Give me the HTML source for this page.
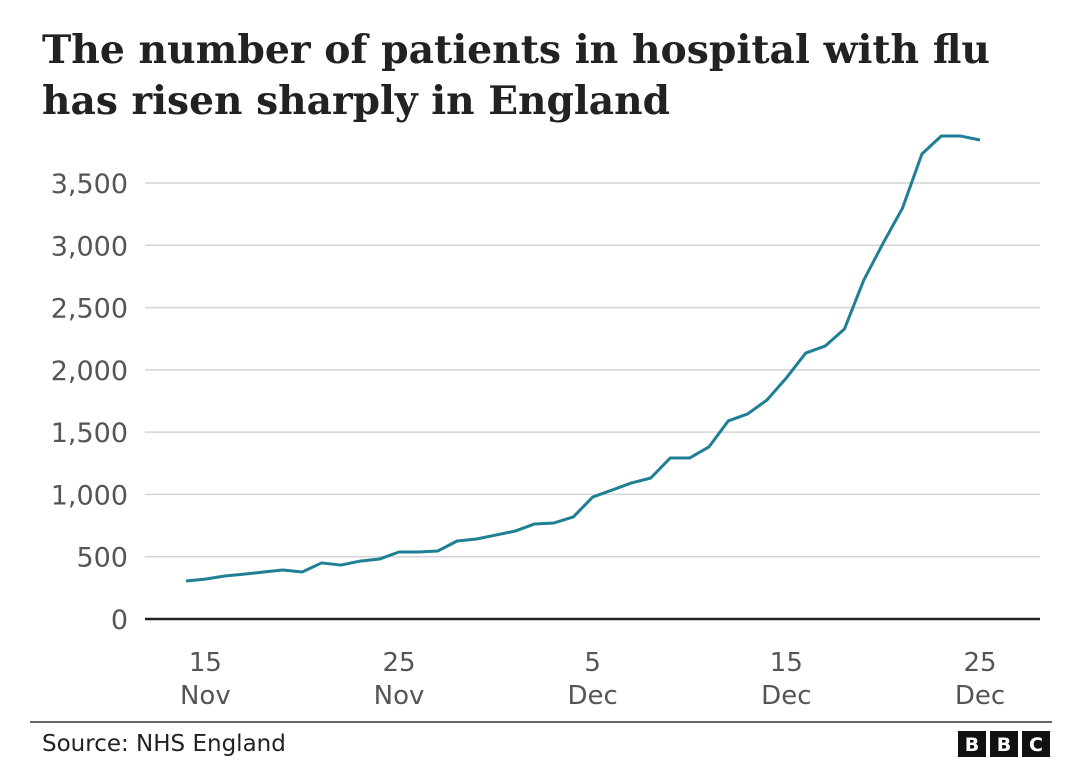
<!DOCTYPE html>
<html><head><meta charset="utf-8"><style>
body{margin:0;background:#fff;width:1080px;height:773px;overflow:hidden;font-family:"DejaVu Sans",sans-serif}
</style></head><body>
<svg id="c" width="1080" height="773" style="position:absolute;left:0;top:0">
<text x="42" y="63" textLength="948" lengthAdjust="spacingAndGlyphs" font-family="DejaVu Serif, serif" font-weight="bold" font-size="39" fill="#222">The number of patients in hospital with flu</text>
<text x="42" y="114" textLength="628" lengthAdjust="spacingAndGlyphs" font-family="DejaVu Serif, serif" font-weight="bold" font-size="39" fill="#222">has risen sharply in England</text>
</svg>
<script>
const dayLabels=["14 Nov","15 Nov","16 Nov","17 Nov","18 Nov","19 Nov","20 Nov","21 Nov","22 Nov","23 Nov","24 Nov","25 Nov","26 Nov","27 Nov","28 Nov","29 Nov","30 Nov","1 Dec","2 Dec","3 Dec","4 Dec","5 Dec","6 Dec","7 Dec","8 Dec","9 Dec","10 Dec","11 Dec","12 Dec","13 Dec","14 Dec","15 Dec","16 Dec","17 Dec","18 Dec","19 Dec","20 Dec","21 Dec","22 Dec","23 Dec","24 Dec","25 Dec"];
const patients=[305,320,345,360,377,393,377,450,433,465,482,538,538,546,626,642,674,706,763,771,819,979,1035,1092,1132,1292,1292,1381,1590,1646,1758,1935,2135,2191,2328,2721,3018,3299,3733,3877,3877,3845];
const yTicks=[0,500,1000,1500,2000,2500,3000,3500];
const xTickIdx=[1,11,21,31,41];
const xTickTop=["15","25","5","15","25"];
const xTickBot=["Nov","Nov","Dec","Dec","Dec"];
const NS="http://www.w3.org/2000/svg",svg=document.getElementById('c');
const x=i=>186+i*(980-186)/41, y=v=>619-v*(619-183)/3500;
function mk(t,a,p){const e=document.createElementNS(NS,t);for(const k in a)e.setAttribute(k,a[k]);(p||svg).appendChild(e);return e;}
yTicks.forEach(v=>{
 if(v>0){const g=mk('line',{x1:145,x2:1040,y1:y(v),y2:y(v),stroke:'#d4d4d4','stroke-width':1.5});
 
 }
 const t=mk('text',{x:128,y:y(v)+10,'text-anchor':'end','font-size':27,fill:'#555'});t.textContent=v.toLocaleString('en-GB');
 
 
});
const ax=mk('line',{x1:145,x2:1040,y1:619,y2:619,stroke:'#222','stroke-width':2.5});


xTickIdx.forEach((i,k)=>{
 const t1=mk('text',{x:x(i),y:671,'text-anchor':'middle','font-size':26,fill:'#555'});t1.textContent=xTickTop[k];
 
 
 const t2=mk('text',{x:x(i),y:704,'text-anchor':'middle','font-size':26,fill:'#555'});t2.textContent=xTickBot[k];
 
 
});
const ln=mk('polyline',{points:patients.map((v,i)=>x(i)+','+y(v)).join(' '),fill:'none',stroke:'#1f7f94','stroke-width':3,'stroke-linejoin':'round'});


const r=mk('line',{x1:30,x2:1052,y1:722,y2:722,stroke:'#333','stroke-width':1.5});


const s=mk('text',{x:42,y:751,'font-size':23,fill:'#222'});s.textContent='Source: NHS England';


["B","B","C"].forEach((l,k)=>{
 const bx=958+k*32;
 const b=mk('rect',{x:bx,y:731,width:28,height:26,fill:'#111'});
 
 
 const t=mk('text',{x:bx+14,y:751,'text-anchor':'middle','font-size':19,'font-weight':'bold',fill:'#fff'});t.textContent=l;
 
 
});
</script>
</body></html>
